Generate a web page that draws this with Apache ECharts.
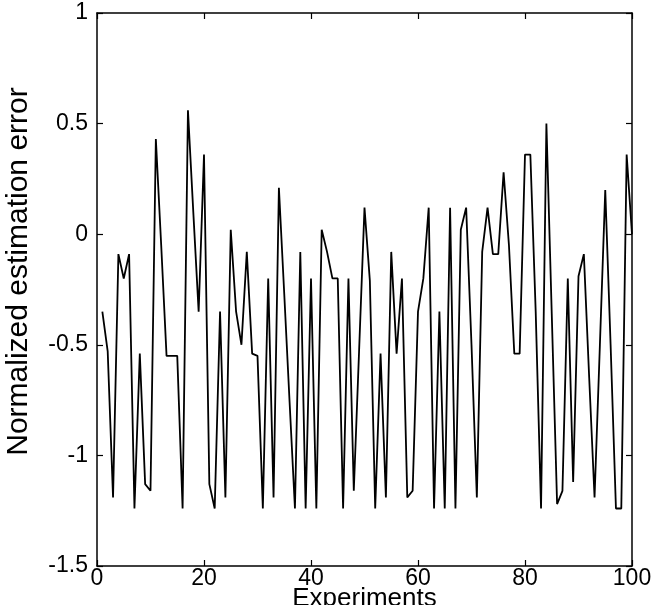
<!DOCTYPE html>
<html>
<head>
<meta charset="utf-8">
<script src="https://cdn.jsdelivr.net/npm/echarts@6/dist/echarts.min.js"></script>
<style>
html,body{margin:0;padding:0;background:#fff;}
#chart{width:658px;height:605px;}
</style>
</head>
<body>
<div id="chart"></div>
<script>
const experiments = Array.from({length: 100}, (_, i) => i + 1);
const errors = [
  -0.35, -0.53, -1.19, -0.09, -0.20, -0.09, -1.24, -0.54, -1.13, -1.16,
   0.43, -0.05, -0.55, -0.55, -0.55, -1.24,  0.56,  0.10, -0.35,  0.36,
  -1.13, -1.24, -0.35, -1.19,  0.02, -0.35, -0.50, -0.08, -0.54, -0.55,
  -1.24, -0.20, -1.19,  0.21, -0.27, -0.76, -1.24, -0.08, -1.24, -0.20,
  -1.24,  0.02, -0.08, -0.20, -0.20, -1.24, -0.20, -1.16, -0.52,  0.12,
  -0.21, -1.24, -0.54, -1.19, -0.08, -0.54, -0.20, -1.19, -1.16, -0.35,
  -0.20,  0.12, -1.24, -0.35, -1.24,  0.12, -1.24,  0.02,  0.12, -0.50,
  -1.19, -0.08,  0.12, -0.09, -0.09,  0.28, -0.05, -0.54, -0.54,  0.36,
   0.36, -0.35, -1.24,  0.50, -0.36, -1.22, -1.16, -0.20, -1.12, -0.19,
  -0.09, -0.65, -1.19, -0.50,  0.20, -0.50, -1.24, -1.24,  0.36,  0.00
];
const xTicks = [0, 20, 40, 60, 80, 100];
const yTicks = [-1.5, -1, -0.5, 0, 0.5, 1];

const FONT = '"Liberation Sans", Arial, Helvetica, sans-serif';
const axisLineStyle = {color: '#000', width: 1.5};
const tickStyle = {show: true, inside: true, length: 6, lineStyle: {color: '#000', width: 1.2}};

const chart = echarts.init(document.getElementById('chart'), null, {renderer: 'canvas'});
chart.setOption({
  animation: false,
  backgroundColor: '#fff',
  grid: {left: 97, right: 26, top: 13, bottom: 39, containLabel: false, outerBoundsMode: 'none'},
  xAxis: [
    {
      type: 'value', min: xTicks[0], max: xTicks[xTicks.length - 1], interval: 20,
      position: 'bottom',
      axisLine: {show: true, onZero: false, lineStyle: axisLineStyle},
      axisTick: tickStyle,
      splitLine: {show: false},
      axisLabel: {color: '#000', fontSize: 23, fontFamily: FONT, margin: 1},
      name: 'Experiments', nameLocation: 'middle', nameGap: 20, nameMoveOverlap: false,
      nameTextStyle: {color: '#000', fontSize: 26, fontFamily: FONT}
    },
    {
      type: 'value', min: xTicks[0], max: xTicks[xTicks.length - 1], interval: 20,
      position: 'top',
      axisLine: {show: true, onZero: false, lineStyle: axisLineStyle},
      axisTick: tickStyle,
      splitLine: {show: false},
      axisLabel: {show: false}
    }
  ],
  yAxis: [
    {
      type: 'value', min: yTicks[0], max: yTicks[yTicks.length - 1], interval: 0.5,
      position: 'left',
      axisLine: {show: true, onZero: false, lineStyle: axisLineStyle},
      axisTick: tickStyle,
      splitLine: {show: false},
      axisLabel: {color: '#000', fontSize: 23, fontFamily: FONT, margin: 9},
      name: 'Normalized estimation error', nameLocation: 'middle', nameGap: 63, nameMoveOverlap: false,
      nameTextStyle: {color: '#000', fontSize: 30, fontFamily: FONT, padding: [0, 0, 0, 36]}
    },
    {
      type: 'value', min: yTicks[0], max: yTicks[yTicks.length - 1], interval: 0.5,
      position: 'right',
      axisLine: {show: true, onZero: false, lineStyle: axisLineStyle},
      axisTick: tickStyle,
      splitLine: {show: false},
      axisLabel: {show: false}
    }
  ],
  series: [{
    type: 'line',
    xAxisIndex: 0, yAxisIndex: 0,
    data: experiments.map((x, i) => [x, errors[i]]),
    symbol: 'none',
    lineStyle: {color: '#000', width: 1.8},
    clip: true
  }]
});
</script>
</body>
</html>
